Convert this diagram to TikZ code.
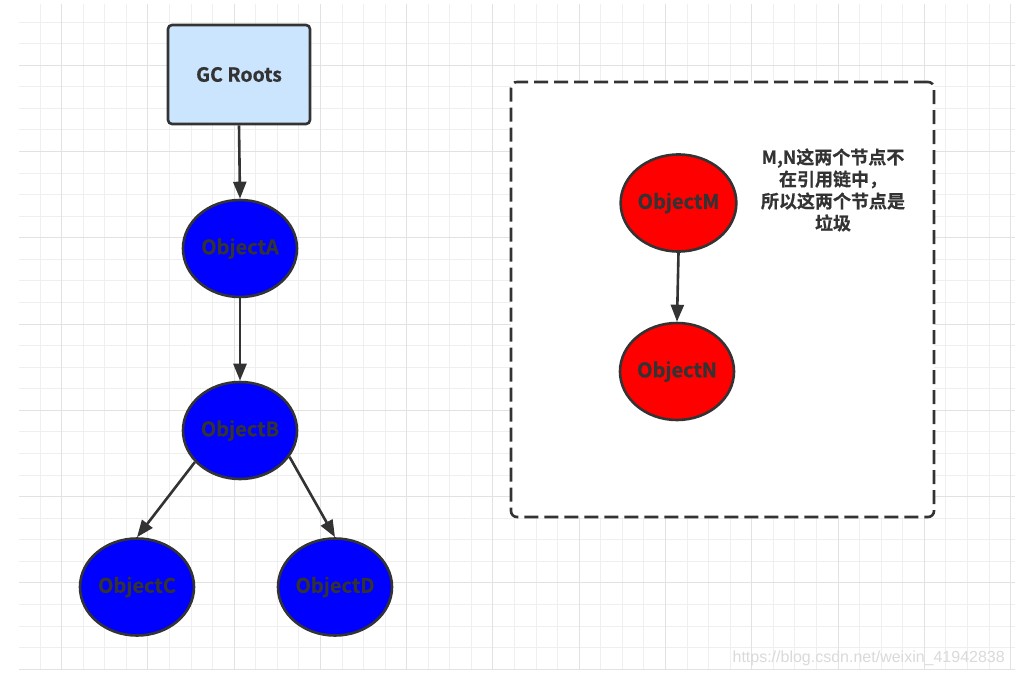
\documentclass[tikz,border=0pt]{standalone}
\usepackage{fontspec}
\setmainfont{Noto Sans CJK SC}[BoldFont={Noto Sans CJK SC Bold},BoldFeatures={FakeBold=0.6}]
\newfontfamily\wmfont{Liberation Sans}
\usetikzlibrary{arrows.meta,shapes.geometric}
\definecolor{ink}{HTML}{333333}
\definecolor{rootfill}{HTML}{CCE5FF}
\definecolor{gridminor}{HTML}{EFEFEF}
\definecolor{gridmajor}{HTML}{E2E2E2}
\definecolor{wm}{HTML}{DADADA}
\tikzset{
  rootbox/.style={draw=ink, fill=rootfill, line width=2.6pt, rounded corners=4pt,
    minimum width=142pt, minimum height=99pt, inner sep=0pt,
    font=\fontsize{19.5}{22}\selectfont\bfseries, text=ink},
  obj/.style={ellipse, draw=ink, line width=2.6pt, minimum width=114pt,
    minimum height=97pt, inner sep=0pt,
    font=\fontsize{20}{22}\selectfont\bfseries, text=ink},
  live/.style={obj, fill=blue},
  dead/.style={obj, fill=red},
  link/.style={draw=ink, line width=2.6pt, -{Triangle[length=17pt,width=13pt]}},
  region/.style={draw=ink, dash pattern=on 14pt off 6pt, line width=2.6pt,
    rounded corners=6pt, fill=white},
  note/.style={align=center, text=ink,
    font=\fontsize{18}{22}\selectfont\bfseries}
}
\begin{document}
\begin{tikzpicture}[x=1pt,y=-1pt]
\useasboundingbox[fill=white] (0,0) rectangle (1015,674);
% grid
\begin{scope}
\clip (19,4) rectangle (1015,669.6);
\foreach \i in {0,...,46} {
  \pgfmathsetmacro\xx{18.4+21.57*\i}
  \draw[gridminor, line width=0.9pt] (\xx,4) -- (\xx,670);
}
\foreach \j in {1,...,31} {
  \pgfmathsetmacro\yy{0.43+21.57*\j}
  \draw[gridminor, line width=0.9pt] (19,\yy) -- (1015,\yy);
}
\foreach \i in {2,6,...,46} {
  \pgfmathsetmacro\xx{18.4+21.57*\i}
  \draw[gridmajor, line width=0.9pt] (\xx,4) -- (\xx,670);
}
\foreach \j in {3,7,...,31} {
  \pgfmathsetmacro\yy{0.43+21.57*\j}
  \draw[gridmajor, line width=0.9pt] (19,\yy) -- (1015,\yy);
}
\end{scope}
% dashed region
\node[region, minimum width=423pt, minimum height=435pt, inner sep=0pt] (box) at (722.5,299.5) {};
% nodes
\node[rootbox] (gc) at (239,74.5) {GC Roots};
\node[live] (a) at (240,248.5) {ObjectA};
\node[live] (b) at (240,430.5) {ObjectB};
\node[live] (c) at (137,587) {ObjectC};
\node[live] (d) at (335,587) {ObjectD};
\node[dead] (m) at (678.5,203) {ObjectM};
\node[dead] (n) at (677,371.5) {ObjectN};
\node[note] (txt) at (833,190) {M,N这两个节点不\\在引用链中，\\所以这两个节点是\\垃圾};
% connectors
\draw[link] (gc.south) -- (a.north);
\draw[link] (a.south) -- (b.north);
\draw[link] (b.215) -- (c.north);
\draw[link] (b.-28) -- (d.north);
\draw[link] (m.south) -- (n.north);
% watermark
\node[anchor=base east, inner sep=0pt, text=wm, font=\wmfont\fontsize{16}{18}\selectfont] (wmk) at (1005,662) {https://blog.csdn.net/weixin\_41942838};
\end{tikzpicture}
\end{document}
